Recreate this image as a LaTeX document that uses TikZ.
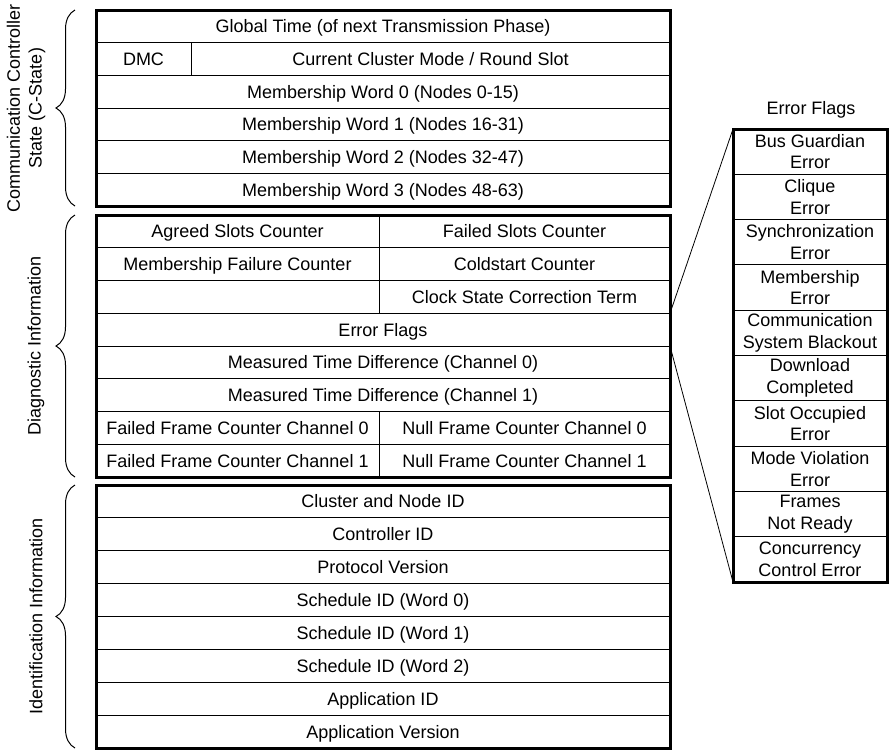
\documentclass[tikz,border=0pt]{standalone}
\usepackage{fontspec}
\setmainfont{Liberation Sans}
\usetikzlibrary{decorations.pathreplacing}
\begin{document}
\begin{tikzpicture}[x=1pt,y=-1pt,
  txt/.style={font=\fontsize{18}{21.7}\selectfont},
  cell/.style={txt, draw, line width=1pt, inner sep=0pt, outer sep=0pt,
    anchor=north west, align=center},
  one/.style={text height=12.9pt, text depth=0pt},
  rowA/.style={cell, one, minimum height=32.67pt},
  rowB/.style={cell, one, minimum height=32.75pt},
  rowC/.style={cell, one, minimum height=32.875pt},
  flag/.style={cell, minimum height=45.3pt, minimum width=154pt},
  frame/.style={line width=3pt},
  grp/.style={decorate, decoration={brace, amplitude=19pt}, line width=1pt},
  lab/.style={txt, rotate=90, align=center},
  zoomline/.style={line width=0.8pt}]
\useasboundingbox (0,0) rectangle (889,750);

% Communication controller state
\node[rowA, minimum width=574pt] (gt) at (96,10) {Global Time (of next Transmission Phase)};
\node[rowA, minimum width=95pt] (dmc) at (96,42.67) {DMC};
\node[rowA, minimum width=479pt] (ccm) at (191,42.67) {Current Cluster Mode / Round Slot};
\node[rowA, minimum width=574pt] (mw0) at (96,75.33) {Membership Word 0 (Nodes 0-15)};
\node[rowA, minimum width=574pt] (mw1) at (96,108) {Membership Word 1 (Nodes 16-31)};
\node[rowA, minimum width=574pt] (mw2) at (96,140.67) {Membership Word 2 (Nodes 32-47)};
\node[rowA, minimum width=574pt] (mw3) at (96,173.33) {Membership Word 3 (Nodes 48-63)};
\draw[frame] (gt.north west) rectangle (mw3.south east);

% Diagnostic information
\node[rowB, minimum width=283pt] (asc) at (96,215) {Agreed Slots Counter};
\node[rowB, minimum width=291pt] (fsc) at (379,215) {Failed Slots Counter};
\node[rowB, minimum width=283pt] (mfc) at (96,247.75) {Membership Failure Counter};
\node[rowB, minimum width=291pt] (csc) at (379,247.75) {Coldstart Counter};
\node[rowB, minimum width=283pt] (blank) at (96,280.5) {};
\node[rowB, minimum width=291pt] (cst) at (379,280.5) {Clock State Correction Term};
\node[rowB, minimum width=574pt] (ef) at (96,313.25) {Error Flags};
\node[rowB, minimum width=574pt] (mtd0) at (96,346) {Measured Time Difference (Channel 0)};
\node[rowB, minimum width=574pt] (mtd1) at (96,378.75) {Measured Time Difference (Channel 1)};
\node[rowB, minimum width=283pt] (ffc0) at (96,411.5) {Failed Frame Counter Channel 0};
\node[rowB, minimum width=291pt] (nfc0) at (379,411.5) {Null Frame Counter Channel 0};
\node[rowB, minimum width=283pt] (ffc1) at (96,444.25) {Failed Frame Counter Channel 1};
\node[rowB, minimum width=291pt] (nfc1) at (379,444.25) {Null Frame Counter Channel 1};
\draw[frame] (asc.north west) rectangle (nfc1.south east);

% Identification information
\node[rowC, minimum width=574pt] (cni) at (96,485) {Cluster and Node ID};
\node[rowC, minimum width=574pt] (cid) at (96,517.875) {Controller ID};
\node[rowC, minimum width=574pt] (pv) at (96,550.75) {Protocol Version};
\node[rowC, minimum width=574pt] (sid0) at (96,583.625) {Schedule ID (Word 0)};
\node[rowC, minimum width=574pt] (sid1) at (96,616.5) {Schedule ID (Word 1)};
\node[rowC, minimum width=574pt] (sid2) at (96,649.375) {Schedule ID (Word 2)};
\node[rowC, minimum width=574pt] (aid) at (96,682.25) {Application ID};
\node[rowC, minimum width=574pt] (av) at (96,715.125) {Application Version};
\draw[frame] (cni.north west) rectangle (av.south east);

% Group braces and their labels
\draw[grp] (75,206) -- (75,10) coordinate[midway] (b1);
\draw[grp] (75,477) -- (75,215) coordinate[midway] (b2);
\draw[grp] (75,748) -- (75,485) coordinate[midway] (b3);
\node[lab] (l1) at (26,108) {Communication Controller\\State (C-State)};
\node[lab] (l2) at (36,346) {Diagnostic Information};
\node[lab] (l3) at (36,616.5) {Identification Information};

% Expanded error flags
\node[txt] (eft) at (811,110) {Error Flags};
\node[flag] (f1) at (733,129) {Bus Guardian\\Error};
\node[flag] (f2) at (733,174.3) {Clique\\Error};
\node[flag] (f3) at (733,219.6) {Synchronization\\Error};
\node[flag] (f4) at (733,264.9) {Membership\\Error};
\node[flag] (f5) at (733,310.2) {Communication\\System Blackout};
\node[flag] (f6) at (733,355.5) {Download\\Completed};
\node[flag] (f7) at (733,400.8) {Slot Occupied\\Error};
\node[flag] (f8) at (733,446.1) {Mode Violation\\Error};
\node[flag] (f9) at (733,491.4) {Frames\\Not Ready};
\node[flag] (f10) at (733,536.7) {Concurrency\\Control Error};
\draw[frame] (f1.north west) rectangle (f10.south east);

\draw[zoomline] (ef.north east) -- (f1.north west);
\draw[zoomline] (ef.south east) -- (f10.south west);
\end{tikzpicture}
\end{document}
